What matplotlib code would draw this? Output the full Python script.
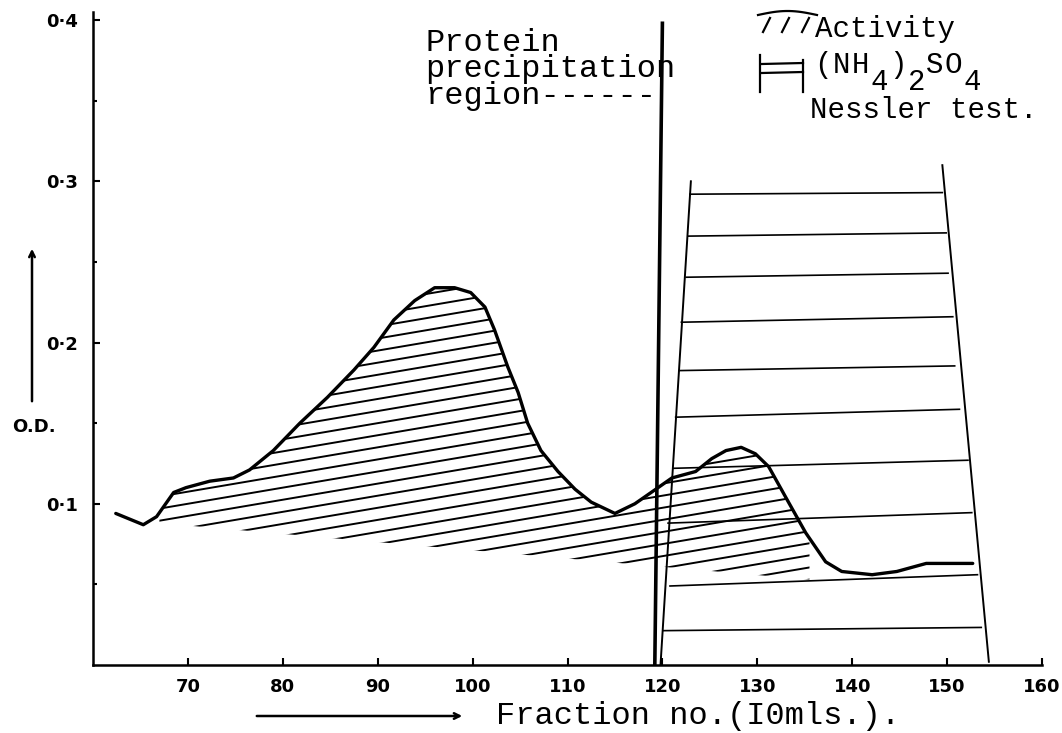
import numpy as np
import matplotlib.pyplot as plt
from matplotlib.path import Path
from matplotlib.patches import PathPatch

# O.D. curve
fraction = [62.4, 65.3, 66.7, 68.5, 69.8, 72.3, 74.8, 76.5, 79.0, 81.8,
            84.7, 87.5, 89.6, 91.7, 93.9, 96.0, 98.1, 99.8, 101.3, 102.3,
            103.7, 104.8, 105.8, 107.2, 109.0, 110.8, 112.5, 115.0, 117.1, 119.3,
            121.0, 123.5, 125.2, 126.7, 128.3, 129.8, 131.2, 133.0, 135.1, 137.2,
            138.9, 142.1, 144.7, 147.8, 150.6, 152.7]
od = [0.094, 0.087, 0.092, 0.107, 0.110, 0.114, 0.116, 0.121, 0.133, 0.150,
      0.166, 0.183, 0.197, 0.214, 0.226, 0.234, 0.234, 0.231, 0.222, 0.208,
      0.185, 0.169, 0.150, 0.133, 0.120, 0.109, 0.101, 0.094, 0.100, 0.109,
      0.116, 0.120, 0.128, 0.133, 0.135, 0.131, 0.123, 0.104, 0.082, 0.064,
      0.058, 0.056, 0.058, 0.063, 0.063, 0.063]

# lower edge of the activity hatching
act_base_x = [67.0, 135.5]
act_base_y = [0.088, 0.053]

# protein precipitation marker line
prot_x = [119.2, 120.0]
prot_y = [0.0, 0.398]

# (NH4)2SO4 band outline
nh4_left_x = [119.8, 123.0]
nh4_left_y = [0.0, 0.300]
nh4_right_x = [154.4, 149.5]
nh4_right_y = [0.002, 0.310]
# rule lines inside the band
nh4_x0 = [122.9, 122.7, 122.5, 122.0, 121.8, 121.4, 121.2, 120.6, 120.8, 120.1]
nh4_x1 = [149.5, 149.9, 150.1, 150.6, 150.8, 151.3, 152.2, 152.6, 153.2, 153.6]
nh4_y0 = [0.292, 0.266, 0.2405, 0.2126, 0.1826, 0.1537, 0.122, 0.088, 0.049, 0.0213]
nh4_y1 = [0.293, 0.268, 0.243, 0.216, 0.1855, 0.1586, 0.127, 0.0945, 0.056, 0.0233]

xticks = [70, 80, 90, 100, 110, 120, 130, 140, 150, 160]
yticks = [0.1, 0.2, 0.3, 0.4]
ytick_labels = ['0·1', '0·2', '0·3', '0·4']

W, H = 1062, 733
MONO = 'Liberation Mono'
HAND = dict(family='DejaVu Sans', weight='bold')


def fx(px):
    return px / W


def fy(py):
    return 1 - py / H


fig = plt.figure(figsize=(W / 100, H / 100), dpi=100)
ax = fig.add_axes([fx(93), fy(665), fx(1042) - fx(93), fy(12) - fy(665)])
ax.set_xlim(60, 160)
ax.set_ylim(0, 0.405)

for s in ['top', 'right']:
    ax.spines[s].set_visible(False)
for s in ['left', 'bottom']:
    ax.spines[s].set_linewidth(1.8)

ax.set_xticks(xticks)
ax.set_xticklabels([str(t) for t in xticks], fontsize=13, **HAND)
ax.set_yticks(yticks)
ax.set_yticklabels(ytick_labels, fontsize=13, **HAND)
ax.set_yticks([0.05, 0.15, 0.25, 0.35], minor=True)
ax.tick_params(axis='both', which='major', direction='in', length=5, width=1.5)
ax.tick_params(axis='x', pad=9)
ax.tick_params(axis='y', pad=11)
ax.tick_params(axis='y', which='minor', direction='in', length=3, width=1.5)

# activity hatching: shallow parallel strokes clipped to region under the curve
fr = np.array(fraction)
odv = np.array(od)
inside = (fr > act_base_x[0]) & (fr < act_base_x[1])
top_x = np.concatenate([[act_base_x[0]], fr[inside], [act_base_x[1]]])
top_y = np.concatenate([[np.interp(act_base_x[0], fr, odv)], odv[inside],
                        [np.interp(act_base_x[1], fr, odv)]])
poly = np.vstack([np.column_stack([top_x, top_y]),
                  np.column_stack([act_base_x[::-1], act_base_y[::-1]])])
region = PathPatch(Path(poly), facecolor='none', edgecolor='none')
ax.add_patch(region)
slope = 0.001
for c in np.arange(-0.03, 0.22, 0.0075):
    ln, = ax.plot([60, 160], [c, c + slope * 100], color='black', lw=1.4)
    ln.set_clip_path(region)

# (NH4)2SO4 band
ax.plot(nh4_left_x, nh4_left_y, color='black', lw=1.4)
ax.plot(nh4_right_x, nh4_right_y, color='black', lw=1.4)
for x0, x1, y0, y1 in zip(nh4_x0, nh4_x1, nh4_y0, nh4_y1):
    ax.plot([x0, x1], [y0, y1], color='black', lw=1.2)

# the curve and the precipitation marker
ax.plot(fraction, od, color='black', lw=2.4, solid_capstyle='round')
ax.plot(prot_x, prot_y, color='black', lw=2.6)

# typed annotations
ts = 23
fig.text(fx(425), fy(104), 'Protein\nprecipitation\nregion------', family=MONO,
         fontsize=ts, va='baseline', linespacing=0.85)

ls = 21
cw = 18.7
fig.text(fx(815), fy(37), 'Activity', family=MONO, fontsize=ls, va='baseline')
formula = '(NH4)2SO4'
lowered = [0, 0, 0, 1, 0, 1, 0, 0, 1]
for i, (ch, lo) in enumerate(zip(formula, lowered)):
    fig.text(fx(814 + i * cw), fy(73 + 17 * lo), ch, family=MONO, fontsize=ls,
             va='baseline')
fig.text(fx(810), fy(118), 'Nessler test.', family=MONO, fontsize=ls, va='baseline')

fig.text(fx(496), fy(724), 'Fraction no.(I0mls.).', family=MONO, fontsize=ts,
         va='baseline')

# legend swatches
sw = dict(color='black', lw=1.6, transform=fig.transFigure, clip_on=False)
arc_x = np.linspace(758, 817, 20)
arc_y = 15 - 4 * np.sin(np.pi * (arc_x - 758) / 59)
fig.add_artist(plt.Line2D(fx(arc_x), fy(arc_y), **sw))
for x0 in [763, 782, 802]:
    fig.add_artist(plt.Line2D([fx(x0), fx(x0 + 7)], [fy(32), fy(18)], **sw))
fig.add_artist(plt.Line2D([fx(760), fx(760)], [fy(55), fy(92)], **sw))
fig.add_artist(plt.Line2D([fx(803), fx(803)], [fy(60), fy(92)], **sw))
fig.add_artist(plt.Line2D([fx(762), fx(803)], [fy(64), fy(63)], **sw))
fig.add_artist(plt.Line2D([fx(762), fx(803)], [fy(73), fy(72)], **sw))

# axis captions with arrows
fig.text(fx(12), fy(432), 'O.D.', fontsize=13, va='baseline', **HAND)
ax.annotate('', xy=(fx(32), fy(246)), xytext=(fx(32), fy(404)),
            xycoords='figure fraction', textcoords='figure fraction',
            arrowprops=dict(arrowstyle='->', lw=1.8, color='black'))
ax.annotate('', xy=(fx(465), fy(716)), xytext=(fx(254), fy(716)),
            xycoords='figure fraction', textcoords='figure fraction',
            arrowprops=dict(arrowstyle='->', lw=1.8, color='black'))

fig.savefig('out.png', dpi=100)
